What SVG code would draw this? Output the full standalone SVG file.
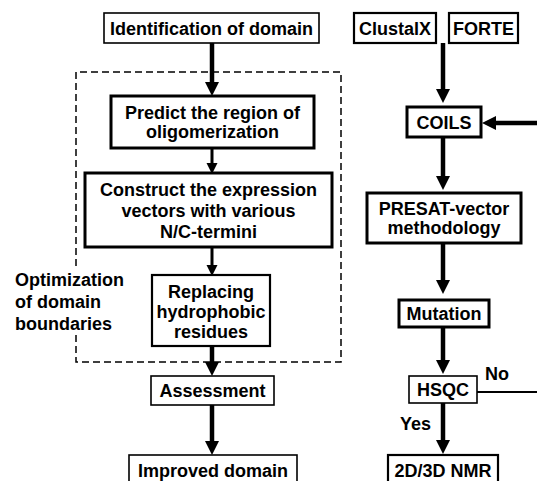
<svg xmlns="http://www.w3.org/2000/svg" width="537" height="481" viewBox="0 0 537 481">
<style>
text{font-family:"Liberation Sans",Arial,sans-serif;font-weight:bold;font-size:18px;fill:#000}
.c{text-anchor:middle}
.box{fill:#fff;stroke:#000}
.thin{stroke-width:1.6}
.med{stroke-width:2.2}
.thick{stroke-width:3}
.ln{stroke:#000;fill:none}
.big{stroke-width:4.5}
.sm{stroke-width:3}
</style>
<defs>
<marker id="ah" markerUnits="userSpaceOnUse" markerWidth="14" markerHeight="14" refX="4" refY="7" orient="auto" overflow="visible"><path d="M0,0 L14,7 L0,14 Z" fill="#000"/></marker>
<marker id="as" markerUnits="userSpaceOnUse" markerWidth="11" markerHeight="11" refX="3" refY="5.5" orient="auto" overflow="visible"><path d="M0,0 L11,5.5 L0,11 Z" fill="#000"/></marker>
</defs>
<rect width="537" height="481" fill="#fff"/>
<g id="optimization-region">
<path d="M76,266 V72 H341 V362 H76 V334" fill="none" stroke="#000" stroke-width="1.5" stroke-dasharray="7,4"/>
<text x="15" y="286">Optimization</text>
<text x="15" y="308">of domain</text>
<text x="15" y="330">boundaries</text>
</g>
<g id="connectors">
<line class="ln big" x1="212" y1="43" x2="212" y2="86" marker-end="url(#ah)"/>
<line class="ln sm" x1="212" y1="148" x2="212" y2="166" marker-end="url(#as)"/>
<line class="ln sm" x1="212" y1="247" x2="212" y2="268" marker-end="url(#as)"/>
<line class="ln big" x1="212" y1="346" x2="212" y2="366" marker-end="url(#ah)"/>
<line class="ln big" x1="212" y1="405" x2="212" y2="445" marker-end="url(#ah)"/>
<line class="ln big" x1="443" y1="43" x2="443" y2="93" marker-end="url(#ah)"/>
<line class="ln big" x1="537" y1="123" x2="492" y2="123" marker-end="url(#ah)"/>
<line class="ln big" x1="443" y1="137" x2="443" y2="180" marker-end="url(#ah)"/>
<line class="ln big" x1="443" y1="243" x2="443" y2="284" marker-end="url(#ah)"/>
<line class="ln big" x1="443" y1="327" x2="443" y2="364" marker-end="url(#ah)"/>
<line class="ln" stroke-width="2" x1="477" y1="392" x2="537" y2="392"/>
<line class="ln big" x1="443" y1="403" x2="443" y2="444" marker-end="url(#ah)"/>
<text x="485" y="380">No</text>
<text x="400" y="430">Yes</text>
</g>
<g id="identification"><rect class="box thin" x="104" y="13" width="215" height="30"/><text class="c" x="211.5" y="34.5">Identification of domain</text></g>
<g id="predict"><rect class="box thick" x="111" y="96" width="203" height="52"/><text class="c" x="212.5" y="118.5">Predict the region of</text><text class="c" x="212.5" y="137.5">oligomerization</text></g>
<g id="construct"><rect class="box thick" x="85" y="173" width="247" height="74"/><text class="c" x="208.5" y="195.5">Construct the expression</text><text class="c" x="208.5" y="216.5">vectors with various</text><text class="c" x="208.5" y="237.5">N/C-termini</text></g>
<g id="replacing"><rect class="box med" x="152" y="275" width="118" height="71"/><text class="c" x="211" y="297.5">Replacing</text><text class="c" x="211" y="317.5">hydrophobic</text><text class="c" x="211" y="337.5">residues</text></g>
<g id="assessment"><rect class="box thin" x="151" y="376" width="123" height="29"/><text class="c" x="212.5" y="397">Assessment</text></g>
<g id="improved"><rect class="box thin" x="129" y="455" width="168" height="40"/><text class="c" x="213" y="477">Improved domain</text></g>
<g id="clustalx"><rect class="box med" x="354" y="13" width="82" height="30"/><text class="c" x="395" y="34.5">ClustalX</text></g>
<g id="forte"><rect class="box med" x="449" y="13" width="69" height="30"/><text class="c" x="483.5" y="34.5">FORTE</text></g>
<g id="coils"><rect class="box thick" x="407" y="107" width="74" height="30"/><text class="c" x="444" y="128.5">COILS</text></g>
<g id="presat"><rect class="box thick" x="367" y="193" width="154" height="50"/><text class="c" x="444" y="214.5">PRESAT-vector</text><text class="c" x="444" y="234">methodology</text></g>
<g id="mutation"><rect class="box thick" x="399" y="300" width="90" height="27"/><text class="c" x="444" y="320">Mutation</text></g>
<g id="hsqc"><rect class="box thin" x="409" y="376" width="68" height="27"/><text class="c" x="443" y="396">HSQC</text></g>
<g id="nmr"><rect class="box med" x="388" y="455" width="110" height="40"/><text class="c" x="443" y="477">2D/3D NMR</text></g>
</svg>
